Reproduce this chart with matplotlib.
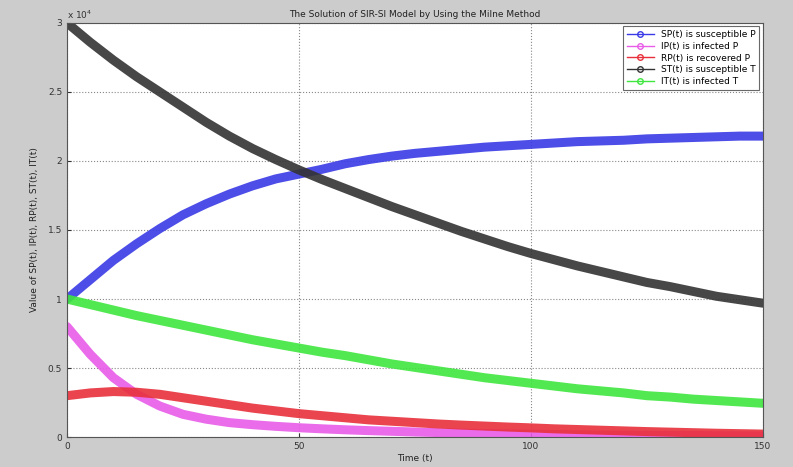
import numpy as np
import matplotlib
matplotlib.use("Agg")
import matplotlib.pyplot as plt
from matplotlib.lines import Line2D
from matplotlib.ticker import FuncFormatter

# time grid (every 5 units)
t = np.arange(0, 151, 5)

# values in units of 1e4
sp = [1.00, 1.14, 1.28, 1.40, 1.51, 1.61, 1.69, 1.76, 1.82, 1.87, 1.905,
      1.94, 1.98, 2.01, 2.035, 2.055, 2.07, 2.085, 2.10, 2.11, 2.12,
      2.13, 2.14, 2.145, 2.15, 2.16, 2.165, 2.17, 2.175, 2.18, 2.18]
ip = [0.80, 0.60, 0.43, 0.31, 0.225, 0.165, 0.13, 0.105, 0.09, 0.078, 0.068,
      0.06, 0.053, 0.047, 0.042, 0.037, 0.033, 0.029, 0.026, 0.023, 0.021,
      0.019, 0.017, 0.015, 0.014, 0.013, 0.012, 0.011, 0.010, 0.009, 0.008]
rp = [0.30, 0.32, 0.33, 0.325, 0.31, 0.285, 0.26, 0.235, 0.21, 0.19, 0.17,
      0.155, 0.14, 0.125, 0.115, 0.105, 0.095, 0.087, 0.08, 0.073, 0.067,
      0.06, 0.055, 0.05, 0.045, 0.04, 0.036, 0.032, 0.028, 0.025, 0.022]
st = [3.00, 2.86, 2.73, 2.61, 2.50, 2.39, 2.28, 2.18, 2.09, 2.01, 1.935,
      1.865, 1.80, 1.735, 1.67, 1.61, 1.55, 1.49, 1.435, 1.38, 1.33,
      1.285, 1.24, 1.20, 1.16, 1.12, 1.09, 1.055, 1.02, 0.995, 0.97]
it = [1.00, 0.96, 0.92, 0.88, 0.845, 0.81, 0.775, 0.74, 0.705, 0.675, 0.645,
      0.615, 0.59, 0.56, 0.53, 0.505, 0.48, 0.455, 0.43, 0.41, 0.39,
      0.37, 0.35, 0.335, 0.32, 0.30, 0.29, 0.275, 0.265, 0.255, 0.245]
scale = 1e4

labels = ["SP(t) is susceptible P", "IP(t) is infected P", "RP(t) is recovered P",
          "ST(t) is susceptible T", "IT(t) is infected T"]
colors = ["#3a3ae6", "#e85ce8", "#e8303c", "#333333", "#3ee63e"]
series = [sp, ip, rp, st, it]

fig = plt.figure(figsize=(7.93, 4.67), dpi=100, facecolor="#cccccc")
ax = fig.add_axes([0.0845, 0.064, 0.8775, 0.887])
ax.set_facecolor("white")

for vals, c in zip(series, colors):
    ax.plot(t, np.array(vals) * scale, color=c, lw=6.5, alpha=0.9,
            solid_capstyle="round", solid_joinstyle="round")

ax.set_xlim(0, 150)
ax.set_ylim(0, 3 * scale)
ax.set_xticks([0, 50, 100, 150])
ax.set_yticks(np.arange(0, 3.01, 0.5) * scale)
ax.yaxis.set_major_formatter(FuncFormatter(lambda v, p: f"{v / scale:g}"))
ax.tick_params(direction="in", labelsize=6.5, length=3, colors="#333333")
ax.grid(True, linestyle=":", color="#888888", lw=0.8)
for s in ax.spines.values():
    s.set_color("#555555")

ax.text(0.0, 1.005, r"x 10$^4$", transform=ax.transAxes, fontsize=6.5,
        color="#333333", va="bottom", ha="left")
ax.set_title("The Solution of SIR-SI Model by Using the Milne Method",
             fontsize=6.5, color="#222222", pad=4)
ax.set_xlabel("Time (t)", fontsize=6.5, color="#222222", labelpad=2)
ax.set_ylabel("Value of SP(t), IP(t), RP(t), ST(t), IT(t)", fontsize=6.5,
              color="#222222", labelpad=6)

handles = [Line2D([], [], color=c, lw=1, marker="o", ms=4, mfc="none", mec=c)
           for c in colors]
leg = ax.legend(handles, labels, loc="upper right", fontsize=6.5,
                frameon=True, fancybox=False, borderaxespad=0.4,
                handlelength=3, labelspacing=0.3, edgecolor="#444444")
leg.get_frame().set_linewidth(0.8)

fig.savefig("out.png", dpi=100, facecolor=fig.get_facecolor())
